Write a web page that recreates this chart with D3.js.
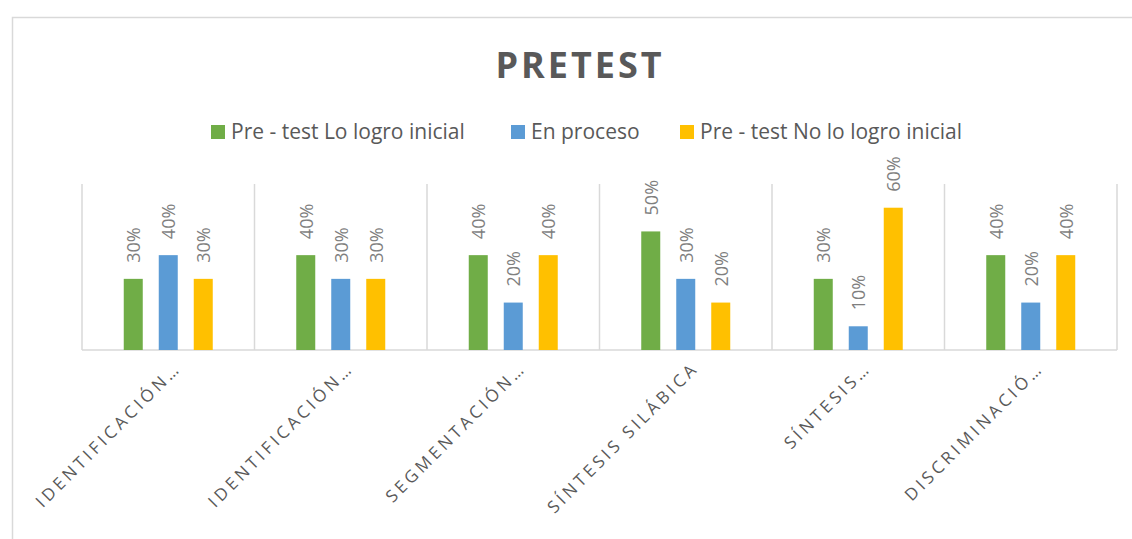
<!DOCTYPE html>
<html><head><meta charset="utf-8">
<script src="https://cdn.jsdelivr.net/npm/d3@7"></script>
<style>body{margin:0;background:#fff}</style>
</head><body>
<svg id="c" width="1132" height="539"></svg>
<script>
const categories = ["IDENTIFICACIÓN…","IDENTIFICACIÓN…","SEGMENTACIÓN…","SÍNTESIS SILÁBICA","SÍNTESIS…","DISCRIMINACIÓ…"];
const seriesNames = ["Pre - test Lo logro inicial","En proceso","Pre - test No lo logro inicial"];
const seriesColors = ["#70ad47","#5b9bd5","#ffc000"];
const logroInicial = [0.30,0.40,0.40,0.50,0.30,0.40];
const enProceso = [0.40,0.30,0.20,0.30,0.10,0.20];
const noLogro = [0.30,0.30,0.40,0.20,0.60,0.40];
const seriesValues = [logroInicial, enProceso, noLogro];

const svg = d3.select("#c");
const font = "'Open Sans', 'Liberation Sans', sans-serif";
svg.append("rect").attr("x",12.5).attr("y",17.5).attr("width",1130).attr("height",540)
  .attr("fill","#fff").attr("stroke","#d9d9d9").attr("stroke-width",1.5);

const pL=82, pR=1117, pT=184, pB=350;
const x = d3.scaleBand().domain(d3.range(categories.length)).range([pL,pR]);
const xs = d3.scaleBand().domain(d3.range(3)).range([0,x.bandwidth()]).paddingInner(0.457).paddingOuter(1.193);
const y = d3.scaleLinear().domain([0,0.7]).range([pB,pT]);

// title
svg.append("text").attr("x",580).attr("y",78).attr("text-anchor","middle")
  .attr("font-family",font).attr("font-weight","bold").attr("font-size",36)
  .attr("letter-spacing",3).attr("fill","#595959").text("PRETEST");

// legend
const legX=[211,511,680];
seriesNames.forEach((n,i)=>{
  svg.append("rect").attr("x",legX[i]).attr("y",125).attr("width",14).attr("height",14).attr("fill",seriesColors[i]);
  svg.append("text").attr("x",legX[i]+20).attr("y",139).attr("font-family",font).attr("font-size",21)
    .attr("fill","#595959").text(n);
});

// gridlines (category separators)
const bounds = d3.range(categories.length+1).map(i=> i<categories.length? x(i): x(categories.length-1)+x.bandwidth());
svg.selectAll("line.g").data(bounds).enter().append("line")
  .attr("x1",d=>d).attr("x2",d=>d).attr("y1",pT).attr("y2",pB)
  .attr("stroke","#d9d9d9").attr("stroke-width",1.5);
svg.append("line").attr("x1",pL).attr("x2",pR).attr("y1",pB).attr("y2",pB)
  .attr("stroke","#d9d9d9").attr("stroke-width",1.5);

// bars
seriesValues.forEach((vals,s)=>{
  const g = svg.append("g");
  g.selectAll("rect").data(vals).enter().append("rect")
    .attr("x",(d,i)=>x(i)+xs(s)).attr("width",xs.bandwidth())
    .attr("y",d=>y(d)).attr("height",d=>y(0)-y(d)).attr("fill",seriesColors[s]);
  g.selectAll("text").data(vals).enter().append("text")
    .attr("transform",(d,i)=>`translate(${x(i)+xs(s)+xs.bandwidth()/2+7},${y(d)-16}) rotate(-90)`)
    .attr("font-family",font).attr("font-size",18).attr("fill","#7f7f7f")
    .text(d=>Math.round(d*100)+"%");
});

// x labels
svg.selectAll("text.xl").data(categories).enter().append("text")
  .attr("transform",(d,i)=>`translate(${x(i)+x.bandwidth()/2+14},${369}) rotate(-45)`)
  .attr("text-anchor","end").attr("font-family",font).attr("font-size",17)
  .attr("letter-spacing",3.6).attr("fill","#595959").text(d=>d);
</script>
</body></html>
